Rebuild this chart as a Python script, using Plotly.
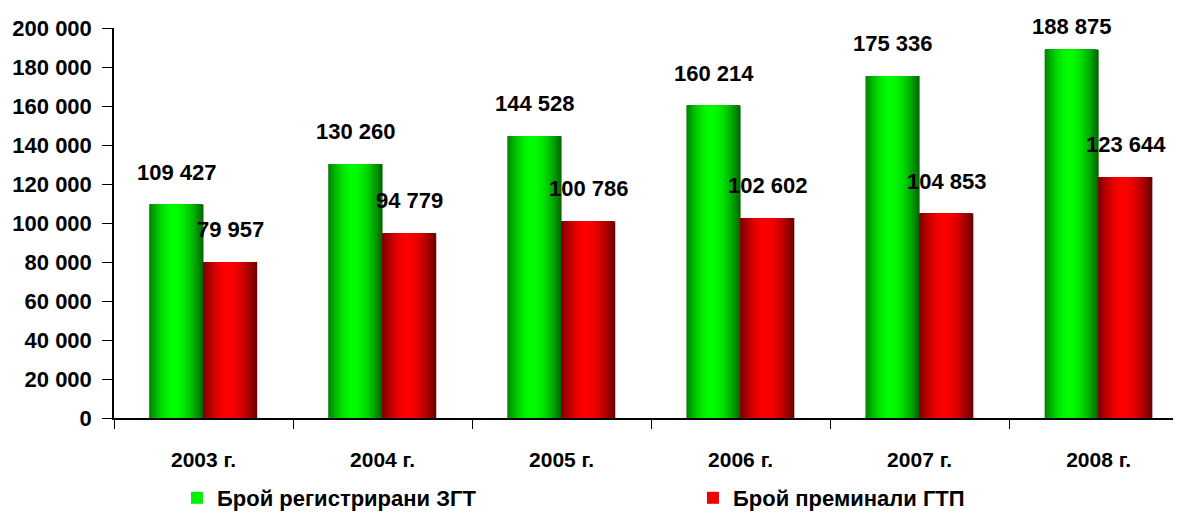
import math
import plotly.graph_objects as go

YEARS = ["2003 г.", "2004 г.", "2005 г.", "2006 г.", "2007 г.", "2008 г."]
REGISTERED = [109427, 130260, 144528, 160214, 175336, 188875]
PASSED = [79957, 94779, 100786, 102602, 104853, 123644]
SERIES_NAMES = ["Брой регистрирани ЗГТ", "Брой преминали ГТП"]

FONT = "Liberation Sans, Arial, sans-serif"
N_LEVELS = 30
BAR_W = 0.3  # each bar, in category units
PEAK = 0.45
Y_MAX = 200000
PLOT_TOP, PLOT_H = 20, 390  # px, used to keep top labels inside the figure


def extent(f, lo_left, lo_right):
    # where the brightness profile across the bar is at least f (0..1 of bar width)
    left = 0.0 if f <= lo_left else PEAK * math.asin((f - lo_left) / (1 - lo_left)) * 2 / math.pi
    right = 1.0 if f <= lo_right else 1 - (1 - PEAK) * math.asin((f - lo_right) / (1 - lo_right)) * 2 / math.pi
    return left, right


def add_gradient_bar(fig, values, name, legend, base, lo_left, lo_right, start):
    # nested bars: widest/darkest first, narrowest/brightest on top
    lo = min(lo_left, lo_right)
    for k in range(N_LEVELS):
        f = lo + (0.99 - lo) * k / (N_LEVELS - 1)
        a, b = extent(f, lo_left, lo_right)
        if b - a < 0.01:
            continue
        r, g, bl = base
        fig.add_trace(
            go.Bar(
                x=YEARS,
                y=values,
                width=BAR_W * (b - a),
                offset=start + BAR_W * a,
                marker=dict(color=f"rgb({int(r * f)},{int(g * f)},{int(bl * f)})", line=dict(width=0)),
                name=name,
                legend=legend,
                showlegend=(k == N_LEVELS - 3),
                hoverinfo="skip",
            )
        )


def fmt(v):
    return f"{v:,}".replace(",", " ")


fig = go.Figure()
add_gradient_bar(fig, REGISTERED, SERIES_NAMES[0], "legend", (0, 255, 0), 0.54, 0.40, -BAR_W)
add_gradient_bar(fig, PASSED, SERIES_NAMES[1], "legend2", (255, 0, 0), 0.50, 0.42, 0.0)

for vals, dx in ((REGISTERED, -27), (PASSED, 27)):
    for yr, v in zip(YEARS, vals):
        bar_top = PLOT_TOP + (Y_MAX - v) / Y_MAX * PLOT_H
        shift = min(18, bar_top - 7 - 26)  # keep the label inside the chart
        fig.add_annotation(
            x=yr, y=v, xshift=dx, yshift=shift,
            text=fmt(v), showarrow=False, yanchor="bottom",
            font=dict(family=FONT, size=22, color="black", weight="bold"),
        )

legend_font = dict(family=FONT, size=22, color="black", weight="bold")
# page body adds an 8px offset, so the figure is sized 8px smaller
fig.update_layout(
    width=1173,
    height=511,
    barmode="overlay",
    margin=dict(l=106, r=0, t=PLOT_TOP, b=101),
    plot_bgcolor="white",
    paper_bgcolor="white",
    separators=". ",
    font=dict(family=FONT, color="black"),
    legend=dict(orientation="h", x=0.059, y=0, xanchor="left", yanchor="bottom",
                yref="container", font=legend_font),
    legend2=dict(orientation="h", x=0.5426, y=0, xanchor="left", yanchor="bottom",
                 yref="container", font=legend_font),
    xaxis=dict(
        range=[-0.5, 5.46],
        automargin=False,
        showline=True,
        linecolor="black",
        linewidth=1.5,
        ticks="outside",
        tickson="boundaries",
        ticklen=9,
        tickcolor="black",
        ticklabelstandoff=22,
        tickfont=dict(family=FONT, size=21, color="black", weight="bold"),
        showgrid=False,
    ),
    yaxis=dict(
        range=[0, Y_MAX],
        automargin=False,
        dtick=20000,
        tickformat=",d",
        showline=True,
        linecolor="black",
        linewidth=1.5,
        ticks="outside",
        ticklen=10,
        tickcolor="black",
        ticklabelstandoff=6,
        tickfont=dict(family=FONT, size=22, color="black", weight="bold"),
        showgrid=False,
        zeroline=False,
    ),
)

fig.write_html("out.html")
